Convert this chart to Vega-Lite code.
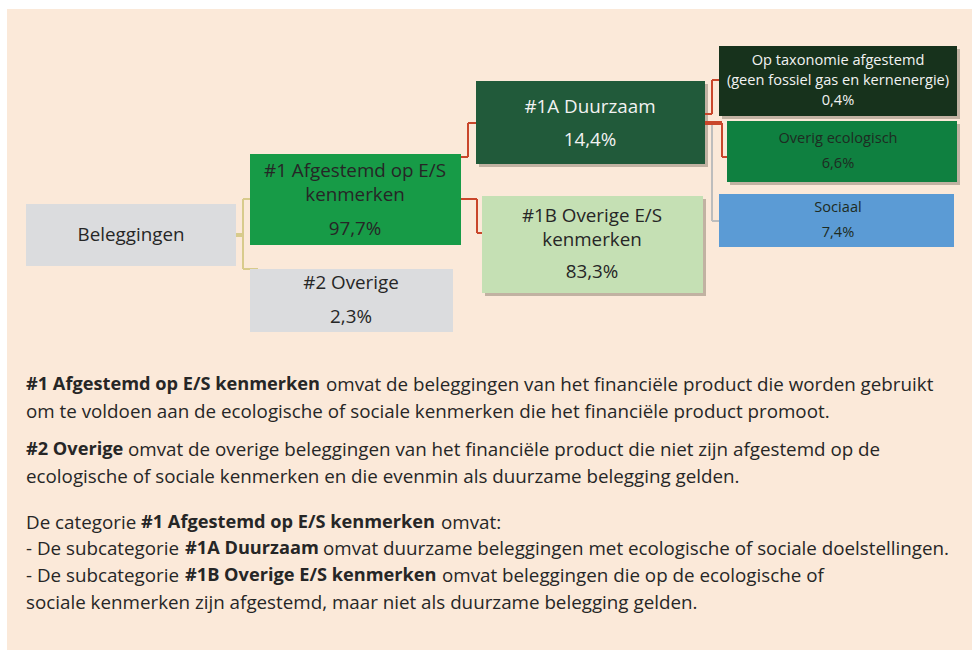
{
  "$schema": "https://vega.github.io/schema/vega-lite/v6.json",
  "width": 978,
  "height": 652,
  "autosize": {"type": "fit", "contains": "padding"},
  "padding": 0,
  "background": "#ffffff",
  "config": {"view": {"stroke": null}, "font": "Open Sans"},
  "datasets": {
    "panel": [{"x": 7, "x2": 972, "y": 9, "y2": 650}],
    "boxes": [
      {"node": "Beleggingen", "x": 26, "x2": 236, "y": 204, "y2": 266, "shadow": false},
      {"node": "#1", "x": 250, "x2": 461, "y": 154, "y2": 245, "shadow": false},
      {"node": "#2", "x": 250, "x2": 453, "y": 269, "y2": 332, "shadow": false},
      {"node": "#1A", "x": 476, "x2": 705, "y": 81, "y2": 164, "shadow": true},
      {"node": "#1B", "x": 482, "x2": 703, "y": 196, "y2": 293, "shadow": true},
      {"node": "Taxonomie", "x": 719, "x2": 957, "y": 46, "y2": 116, "shadow": true},
      {"node": "Ecologisch", "x": 727, "x2": 957, "y": 121, "y2": 182, "shadow": true},
      {"node": "Sociaal", "x": 719, "x2": 954, "y": 194, "y2": 247, "shadow": false}
    ],
    "links": [
      {"kind": "olive", "w": "thick", "x": 236, "y": 235, "x2": 243, "y2": 235},
      {"kind": "olive", "w": "thin", "x": 243, "y": 199, "x2": 243, "y2": 269},
      {"kind": "olive", "w": "thin", "x": 243, "y": 199, "x2": 250, "y2": 199},
      {"kind": "olive", "w": "thin", "x": 243, "y": 269, "x2": 258, "y2": 269},
      {"kind": "red", "w": "thin", "x": 461, "y": 157, "x2": 468, "y2": 157},
      {"kind": "red", "w": "thin", "x": 468, "y": 157, "x2": 468, "y2": 123},
      {"kind": "red", "w": "thin", "x": 468, "y": 123, "x2": 476, "y2": 123},
      {"kind": "red", "w": "thin", "x": 461, "y": 199, "x2": 477, "y2": 199},
      {"kind": "red", "w": "thin", "x": 477, "y": 199, "x2": 477, "y2": 233},
      {"kind": "red", "w": "thin", "x": 477, "y": 233, "x2": 482, "y2": 233},
      {"kind": "gray", "w": "thin", "x": 712, "y": 123, "x2": 712, "y2": 221},
      {"kind": "gray", "w": "thin", "x": 712, "y": 221, "x2": 719, "y2": 221},
      {"kind": "red", "w": "thin", "x": 705, "y": 114, "x2": 712, "y2": 114},
      {"kind": "red", "w": "thin", "x": 712, "y": 114, "x2": 712, "y2": 80},
      {"kind": "red", "w": "thin", "x": 712, "y": 80, "x2": 719, "y2": 80},
      {"kind": "red", "w": "thick", "x": 705, "y": 123, "x2": 722, "y2": 123},
      {"kind": "red", "w": "thin", "x": 722, "y": 123, "x2": 722, "y2": 157},
      {"kind": "red", "w": "thin", "x": 722, "y": 157, "x2": 727, "y2": 157}
    ],
    "labels": [
      {"size": "main", "tone": "dark", "x": 131, "y": 235, "text": "Beleggingen"},
      {"size": "main", "tone": "dark", "x": 355, "y": 171, "text": "#1 Afgestemd op E/S"},
      {"size": "main", "tone": "dark", "x": 355, "y": 195, "text": "kenmerken"},
      {"size": "main", "tone": "dark", "x": 355, "y": 229, "text": "97,7%"},
      {"size": "main", "tone": "dark", "x": 351, "y": 283, "text": "#2 Overige"},
      {"size": "main", "tone": "dark", "x": 351, "y": 317, "text": "2,3%"},
      {"size": "main", "tone": "light", "x": 590, "y": 107, "text": "#1A Duurzaam"},
      {"size": "main", "tone": "light", "x": 590, "y": 140, "text": "14,4%"},
      {"size": "main", "tone": "dark", "x": 592, "y": 216, "text": "#1B Overige E/S"},
      {"size": "main", "tone": "dark", "x": 592, "y": 240, "text": "kenmerken"},
      {"size": "main", "tone": "dark", "x": 592, "y": 272, "text": "83,3%"},
      {"size": "small", "tone": "light", "x": 838, "y": 61, "text": "Op taxonomie afgestemd"},
      {"size": "small", "tone": "light", "x": 838, "y": 81, "text": "(geen fossiel gas en kernenergie)"},
      {"size": "small", "tone": "light", "x": 838, "y": 101, "text": "0,4%"},
      {"size": "small", "tone": "deep", "x": 838, "y": 139, "text": "Overig ecologisch"},
      {"size": "small", "tone": "deep", "x": 838, "y": 164, "text": "6,6%"},
      {"size": "small", "tone": "deep", "x": 838, "y": 208, "text": "Sociaal"},
      {"size": "small", "tone": "deep", "x": 838, "y": 233, "text": "7,4%"}
    ],
    "body": [
      {"bold": true, "x": 26, "y": 385, "text": "#1 Afgestemd op E/S kenmerken"},
      {"bold": false, "x": 326, "y": 385, "text": "omvat de beleggingen van het financiële product die worden gebruikt"},
      {"bold": false, "x": 26, "y": 412, "text": "om te voldoen aan de ecologische of sociale kenmerken die het financiële product promoot."},
      {"bold": true, "x": 26, "y": 450, "text": "#2 Overige"},
      {"bold": false, "x": 128, "y": 450, "text": "omvat de overige beleggingen van het financiële product die niet zijn afgestemd op de"},
      {"bold": false, "x": 26, "y": 477, "text": "ecologische of sociale kenmerken en die evenmin als duurzame belegging gelden."},
      {"bold": false, "x": 26, "y": 523, "text": "De categorie"},
      {"bold": true, "x": 141, "y": 523, "text": "#1 Afgestemd op E/S kenmerken"},
      {"bold": false, "x": 441, "y": 523, "text": "omvat:"},
      {"bold": false, "x": 26, "y": 549, "text": "- De subcategorie"},
      {"bold": true, "x": 185, "y": 549, "text": "#1A Duurzaam"},
      {"bold": false, "x": 323, "y": 549, "text": "omvat duurzame beleggingen met ecologische of sociale doelstellingen."},
      {"bold": false, "x": 26, "y": 576, "text": "- De subcategorie"},
      {"bold": true, "x": 185, "y": 576, "text": "#1B Overige E/S kenmerken"},
      {"bold": false, "x": 442, "y": 576, "text": "omvat beleggingen die op de ecologische of"},
      {"bold": false, "x": 26, "y": 603, "text": "sociale kenmerken zijn afgestemd, maar niet als duurzame belegging gelden."}
    ]
  },
  "resolve": {"scale": {"fill": "independent", "color": "independent", "stroke": "independent", "strokeWidth": "independent"}},
  "layer": [
    {
      "data": {"name": "panel"},
      "mark": {"type": "rect", "color": "#FBE9D9"},
      "encoding": {
        "x": {"field": "x", "type": "quantitative", "scale": {"domain": [0, 978], "nice": false, "zero": false}, "axis": null},
        "x2": {"field": "x2"},
        "y": {"field": "y", "type": "quantitative", "scale": {"domain": [0, 652], "nice": false, "zero": false, "reverse": true}, "axis": null},
        "y2": {"field": "y2"}
      }
    },
    {
      "data": {"name": "boxes"},
      "transform": [{"filter": "datum.shadow"}],
      "mark": {"type": "rect", "color": "#7a6e60", "opacity": 0.45, "xOffset": 3, "x2Offset": 3, "yOffset": 3, "y2Offset": 3},
      "encoding": {
        "x": {"field": "x", "type": "quantitative", "axis": null},
        "x2": {"field": "x2"},
        "y": {"field": "y", "type": "quantitative", "axis": null},
        "y2": {"field": "y2"}
      }
    },
    {
      "data": {"name": "links"},
      "mark": {"type": "rule"},
      "encoding": {
        "x": {"field": "x", "type": "quantitative", "axis": null},
        "x2": {"field": "x2"},
        "y": {"field": "y", "type": "quantitative", "axis": null},
        "y2": {"field": "y2"},
        "stroke": {"field": "kind", "type": "nominal", "scale": {"domain": ["olive", "red", "gray"], "range": ["#D8CB8C", "#C9462B", "#BDBDBD"]}, "legend": null},
        "strokeWidth": {"field": "w", "type": "nominal", "scale": {"domain": ["thin", "thick"], "range": [2, 4]}, "legend": null}
      }
    },
    {
      "data": {"name": "boxes"},
      "mark": {"type": "rect"},
      "encoding": {
        "x": {"field": "x", "type": "quantitative", "axis": null},
        "x2": {"field": "x2"},
        "y": {"field": "y", "type": "quantitative", "axis": null},
        "y2": {"field": "y2"},
        "fill": {"field": "node", "type": "nominal", "scale": {"domain": ["Beleggingen", "#1", "#2", "#1A", "#1B", "Taxonomie", "Ecologisch", "Sociaal"], "range": ["#DBDCDE", "#179B47", "#DBDCDE", "#215A3A", "#C5E0B4", "#17321C", "#0F8040", "#5B9BD5"]}, "legend": null}
      }
    },
    {
      "data": {"name": "labels"},
      "transform": [{"filter": "datum.size == 'main'"}],
      "mark": {"type": "text", "font": "Open Sans", "fontSize": 18.8, "align": "center", "baseline": "middle"},
      "encoding": {
        "x": {"field": "x", "type": "quantitative", "axis": null},
        "y": {"field": "y", "type": "quantitative", "axis": null},
        "text": {"field": "text"},
        "fill": {"field": "tone", "type": "nominal", "scale": {"domain": ["dark", "light", "deep"], "range": ["#262626", "#F2F2F2", "#1E2B22"]}, "legend": null}
      }
    },
    {
      "data": {"name": "labels"},
      "transform": [{"filter": "datum.size == 'small'"}],
      "mark": {"type": "text", "font": "Open Sans", "fontSize": 14.6, "align": "center", "baseline": "middle"},
      "encoding": {
        "x": {"field": "x", "type": "quantitative", "axis": null},
        "y": {"field": "y", "type": "quantitative", "axis": null},
        "text": {"field": "text"},
        "fill": {"field": "tone", "type": "nominal", "scale": {"domain": ["dark", "light", "deep"], "range": ["#262626", "#F2F2F2", "#1E2B22"]}, "legend": null}
      }
    },
    {
      "data": {"name": "body"},
      "transform": [{"filter": "!datum.bold"}],
      "mark": {"type": "text", "font": "Open Sans", "fontSize": 18.8, "align": "left", "baseline": "middle", "color": "#262626"},
      "encoding": {
        "x": {"field": "x", "type": "quantitative", "axis": null},
        "y": {"field": "y", "type": "quantitative", "axis": null},
        "text": {"field": "text"}
      }
    },
    {
      "data": {"name": "body"},
      "transform": [{"filter": "datum.bold"}],
      "mark": {"type": "text", "font": "Open Sans", "fontSize": 18.2, "fontWeight": "bold", "align": "left", "baseline": "middle", "color": "#262626"},
      "encoding": {
        "x": {"field": "x", "type": "quantitative", "axis": null},
        "y": {"field": "y", "type": "quantitative", "axis": null},
        "text": {"field": "text"}
      }
    }
  ]
}
